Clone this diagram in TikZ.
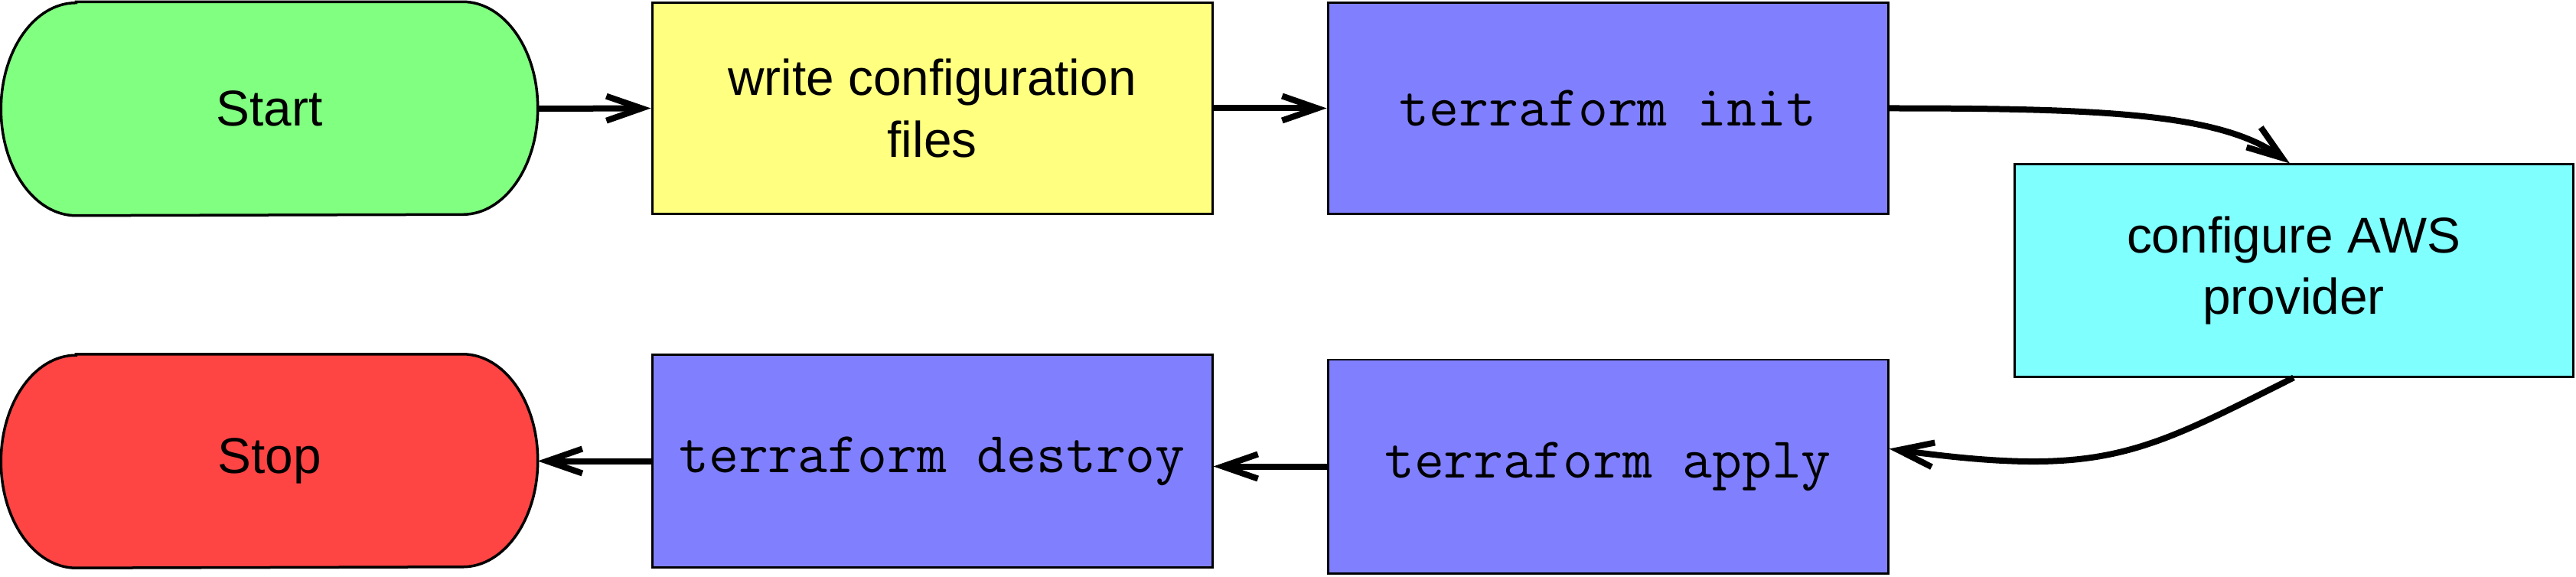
\documentclass[tikz,border=0pt]{standalone}
\usepackage{fontspec}
\setmainfont{Liberation Sans}
\usetikzlibrary{arrows.meta,backgrounds}
\definecolor{cgreen}{RGB}{128,255,128}
\definecolor{cyellow}{RGB}{255,255,128}
\definecolor{cblue}{RGB}{128,128,255}
\definecolor{ccyan}{RGB}{128,255,255}
\definecolor{cred}{RGB}{255,68,68}
\newcommand\termshape[2]{%
  \draw[line width=0.035cm, fill=#2]
    ([xshift=0.98cm]#1.north west) -- ([xshift=-0.98cm]#1.north east)
    arc[start angle=90,end angle=-90,x radius=0.98cm,y radius=1.39cm]
    -- ([xshift=0.98cm]#1.south west)
    arc[start angle=270,end angle=90,x radius=0.98cm,y radius=1.39cm] -- cycle;}
\begin{document}
\begin{tikzpicture}[
  txt/.style={font=\fontsize{18.7}{23}\selectfont},
  mono/.style={font=\ttfamily\fontsize{21.5}{24}\selectfont},
  box/.style={draw=black, line width=0.03cm, minimum width=7.32cm, minimum height=2.76cm, inner sep=0pt, align=center},
  term/.style={draw=none, minimum width=7.0cm, minimum height=2.78cm, inner sep=0pt, align=center, txt},
  arr/.style={line width=0.08cm, -{Straight Barb[length=0.46cm, width=0.32cm, line width=0.08cm]}}
]
\useasboundingbox (0,0) rectangle (33.66,-7.54);
\node[term] (start) at (3.52,-1.42) {Start};
\node[term] (stop) at (3.52,-6.025) {Stop};
\begin{scope}[on background layer]
\termshape{start}{cgreen}
\termshape{stop}{cred}
\end{scope}
\node[box, txt, fill=cyellow] (write) at (12.18,-1.415) {write configuration\\files};
\node[box, mono, fill=cblue] (init) at (21.01,-1.415) {terraform init};
\node[box, txt, fill=ccyan, minimum width=7.30cm, minimum height=2.77cm] (aws) at (29.97,-3.535) {configure AWS\\provider};
\node[box, mono, fill=cblue, minimum height=2.79cm] (apply) at (21.01,-6.095) {terraform apply};
\node[box, mono, fill=cblue, minimum height=2.77cm] (destroy) at (12.18,-6.025) {terraform destroy};

\draw[arr] (start.east) -- (write.west);
\draw[arr] (write.west -| write.east) -- (init.west);
\draw[arr] (init.east) .. controls ([xshift=2.8cm]init.east) and ([xshift=-0.95cm,yshift=0.65cm]aws.north) .. ([xshift=-0.05cm]aws.north);
\draw[arr] (aws.south) .. controls ([xshift=-2.0cm,yshift=-1.0cm]aws.south) and ([xshift=2.8cm,yshift=-0.15cm]apply.east) .. ([yshift=0.23cm]apply.east);
\draw[arr] (apply.west) -- (apply.west -| destroy.east);
\draw[arr] (destroy.west) -- (stop.east);
\end{tikzpicture}
\end{document}
